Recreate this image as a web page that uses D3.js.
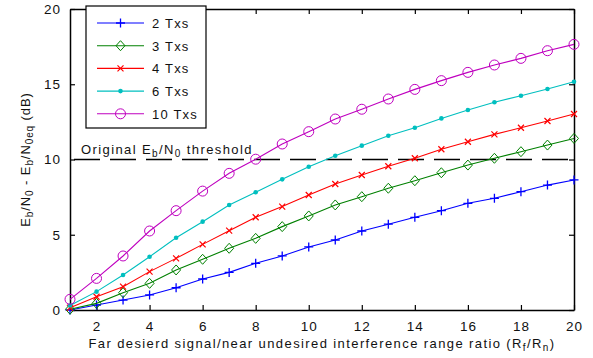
<!DOCTYPE html>
<html>
<head>
<meta charset="utf-8">
<script src="https://cdn.jsdelivr.net/npm/d3@7"></script>
<style>
  body { margin: 0; background: #fff; }
  svg { display: block; font-family: "Liberation Sans", Arial, sans-serif; }
</style>
</head>
<body>
<script>
const ratio = d3.range(1, 21);
const tx2 = [0, 0.33, 0.66, 1.0, 1.48, 2.06, 2.5, 3.1, 3.59, 4.19, 4.65, 5.25, 5.7, 6.16, 6.6, 7.09, 7.42, 7.86, 8.3, 8.64];
const tx3 = [0.05, 0.44, 1.15, 1.77, 2.66, 3.37, 4.1, 4.76, 5.54, 6.25, 6.98, 7.53, 8.09, 8.59, 9.12, 9.63, 10.08, 10.52, 10.96, 11.4];
const tx4 = [0.15, 0.88, 1.55, 2.55, 3.43, 4.36, 5.27, 6.16, 6.87, 7.64, 8.37, 8.97, 9.55, 10.08, 10.68, 11.18, 11.67, 12.11, 12.56, 13.02];
const tx6 = [0.3, 1.22, 2.33, 3.54, 4.8, 5.87, 6.98, 7.82, 8.68, 9.52, 10.25, 10.92, 11.58, 12.11, 12.73, 13.29, 13.8, 14.24, 14.68, 15.17];
const tx10 = [0.71, 2.1, 3.59, 5.25, 6.6, 7.9, 9.08, 10.02, 11.03, 11.85, 12.69, 13.34, 14.02, 14.66, 15.24, 15.79, 16.28, 16.72, 17.23, 17.65];
const xTicks = [2, 4, 6, 8, 10, 12, 14, 16, 18, 20];
const yTicks = [0, 5, 10, 15, 20];
const threshold = 10;

const series = [
  {name: "2 Txs", values: tx2, color: "#0000ff", mark: "plus"},
  {name: "3 Txs", values: tx3, color: "#008000", mark: "diamond"},
  {name: "4 Txs", values: tx4, color: "#ff0000", mark: "cross"},
  {name: "6 Txs", values: tx6, color: "#00bfbf", mark: "dot"},
  {name: "10 Txs", values: tx10, color: "#bf00bf", mark: "circle"}
];

const W = 593, H = 358;
const margin = {top: 9, right: 19, bottom: 48, left: 70};
const width = W - margin.left - margin.right,
      height = H - margin.top - margin.bottom;
const LS = "1.4px";   // the source text is noticeably spread out

const svg = d3.select("body").append("svg")
  .attr("width", W).attr("height", H);
const g = svg.append("g")
  .attr("transform", "translate(" + margin.left + "," + margin.top + ")");

const x = d3.scaleLinear().domain([1, 20]).range([0, width]);
const y = d3.scaleLinear().domain([0, 20]).range([height, 0]);

// axes, ticks pointing inward, MATLAB style box
const ax = g.append("g").attr("transform", "translate(0," + height + ")")
  .call(d3.axisBottom(x).tickValues(xTicks).tickSizeInner(-5).tickSizeOuter(0).tickPadding(11));
const ay = g.append("g")
  .call(d3.axisLeft(y).tickValues(yTicks).tickSizeInner(-5).tickSizeOuter(0).tickPadding(9));
const axT = g.append("g")
  .call(d3.axisTop(x).tickValues(xTicks).tickSizeInner(-5).tickSizeOuter(0).tickFormat(""));
const ayR = g.append("g").attr("transform", "translate(" + width + ",0)")
  .call(d3.axisRight(y).tickValues(yTicks).tickSizeInner(-5).tickSizeOuter(0).tickFormat(""));
[ax, ay, axT, ayR].forEach(a => {
  a.select(".domain").attr("stroke", "#000").attr("stroke-width", 1.5);
  a.selectAll(".tick line").attr("stroke", "#000").attr("stroke-width", 1.2);
  a.selectAll(".tick text").attr("font-size", 13.5).attr("letter-spacing", "1px")
    .attr("font-family", "Liberation Sans, Arial, sans-serif").attr("fill", "#111");
});

// threshold line
g.append("line")
  .attr("x1", x(1)).attr("x2", x(20))
  .attr("y1", y(threshold)).attr("y2", y(threshold))
  .attr("stroke", "#000").attr("stroke-width", 1.3)
  .attr("stroke-dasharray", "26,10").attr("stroke-dashoffset", -4);

const thr = g.append("text").attr("x", 11).attr("y", y(threshold) - 6)
  .attr("font-size", 13).attr("letter-spacing", LS).attr("fill", "#111");
thr.append("tspan").text("Original E");
thr.append("tspan").attr("baseline-shift", "-30%").attr("font-size", 10).text("b");
thr.append("tspan").text("/N");
thr.append("tspan").attr("baseline-shift", "-30%").attr("font-size", 10).text("0");
thr.append("tspan").text(" threshold");

function drawMark(sel, mark, color) {
  if (mark === "plus") {
    sel.append("path").attr("d", "M-4.5,0H4.5M0,-4.5V4.5")
      .attr("stroke", color).attr("stroke-width", 1.3).attr("fill", "none");
  } else if (mark === "diamond") {
    sel.append("path").attr("d", "M0,-5L4.5,0L0,5L-4.5,0Z")
      .attr("stroke", color).attr("stroke-width", 1).attr("fill", "none");
  } else if (mark === "cross") {
    sel.append("path").attr("d", "M-3,-3L3,3M-3,3L3,-3")
      .attr("stroke", color).attr("stroke-width", 1.2).attr("fill", "none");
  } else if (mark === "dot") {
    sel.append("circle").attr("r", 2.3).attr("fill", color);
  } else {
    sel.append("circle").attr("r", 5).attr("stroke", color)
      .attr("stroke-width", 1).attr("fill", "none");
  }
}

const line = d3.line().x((d, i) => x(ratio[i])).y(d => y(d));

series.forEach(s => {
  g.append("path").datum(s.values)
    .attr("d", line).attr("fill", "none")
    .attr("stroke", s.color).attr("stroke-width", 1.1);
  g.selectAll(null).data(s.values).enter().append("g")
    .attr("transform", (d, i) => "translate(" + x(ratio[i]) + "," + y(d) + ")")
    .each(function() { drawMark(d3.select(this), s.mark, s.color); });
});

// legend
const leg = svg.append("g").attr("transform", "translate(86,6)");
leg.append("rect").attr("width", 120).attr("height", 122)
  .attr("fill", "#fff").attr("stroke", "#000").attr("stroke-width", 1.2);
series.forEach((s, i) => {
  const row = leg.append("g").attr("transform", "translate(0," + (17 + i * 22.7) + ")");
  row.append("line").attr("x1", 11).attr("x2", 58)
    .attr("stroke", s.color).attr("stroke-width", 1.1);
  const m = row.append("g").attr("transform", "translate(34.5,0)");
  drawMark(m, s.mark, s.color);
  row.append("text").attr("x", 66).attr("y", 5)
    .attr("font-size", 13).attr("letter-spacing", "1.2px").attr("fill", "#111").text(s.name);
});

// axis labels
const xl = svg.append("text").attr("x", margin.left + width / 2).attr("y", 348)
  .attr("text-anchor", "middle").attr("font-size", 13).attr("letter-spacing", LS).attr("fill", "#111");
xl.append("tspan").text("Far desierd signal/near undesired interference range ratio (R");
xl.append("tspan").attr("baseline-shift", "-30%").attr("font-size", 10).text("f");
xl.append("tspan").text("/R");
xl.append("tspan").attr("baseline-shift", "-30%").attr("font-size", 10).text("n");
xl.append("tspan").text(")");

const yl = svg.append("text")
  .attr("transform", "translate(30," + (margin.top + height / 2) + ") rotate(-90)")
  .attr("text-anchor", "middle").attr("font-size", 13).attr("letter-spacing", "0.9px").attr("fill", "#111");
yl.append("tspan").text("E");
yl.append("tspan").attr("baseline-shift", "-30%").attr("font-size", 10).text("b");
yl.append("tspan").text("/N");
yl.append("tspan").attr("baseline-shift", "-30%").attr("font-size", 10).text("0");
yl.append("tspan").text(" - E");
yl.append("tspan").attr("baseline-shift", "-30%").attr("font-size", 10).text("b");
yl.append("tspan").text("/N");
yl.append("tspan").attr("baseline-shift", "-30%").attr("font-size", 10).text("0eq");
yl.append("tspan").text(" (dB)");
</script>
</body>
</html>
